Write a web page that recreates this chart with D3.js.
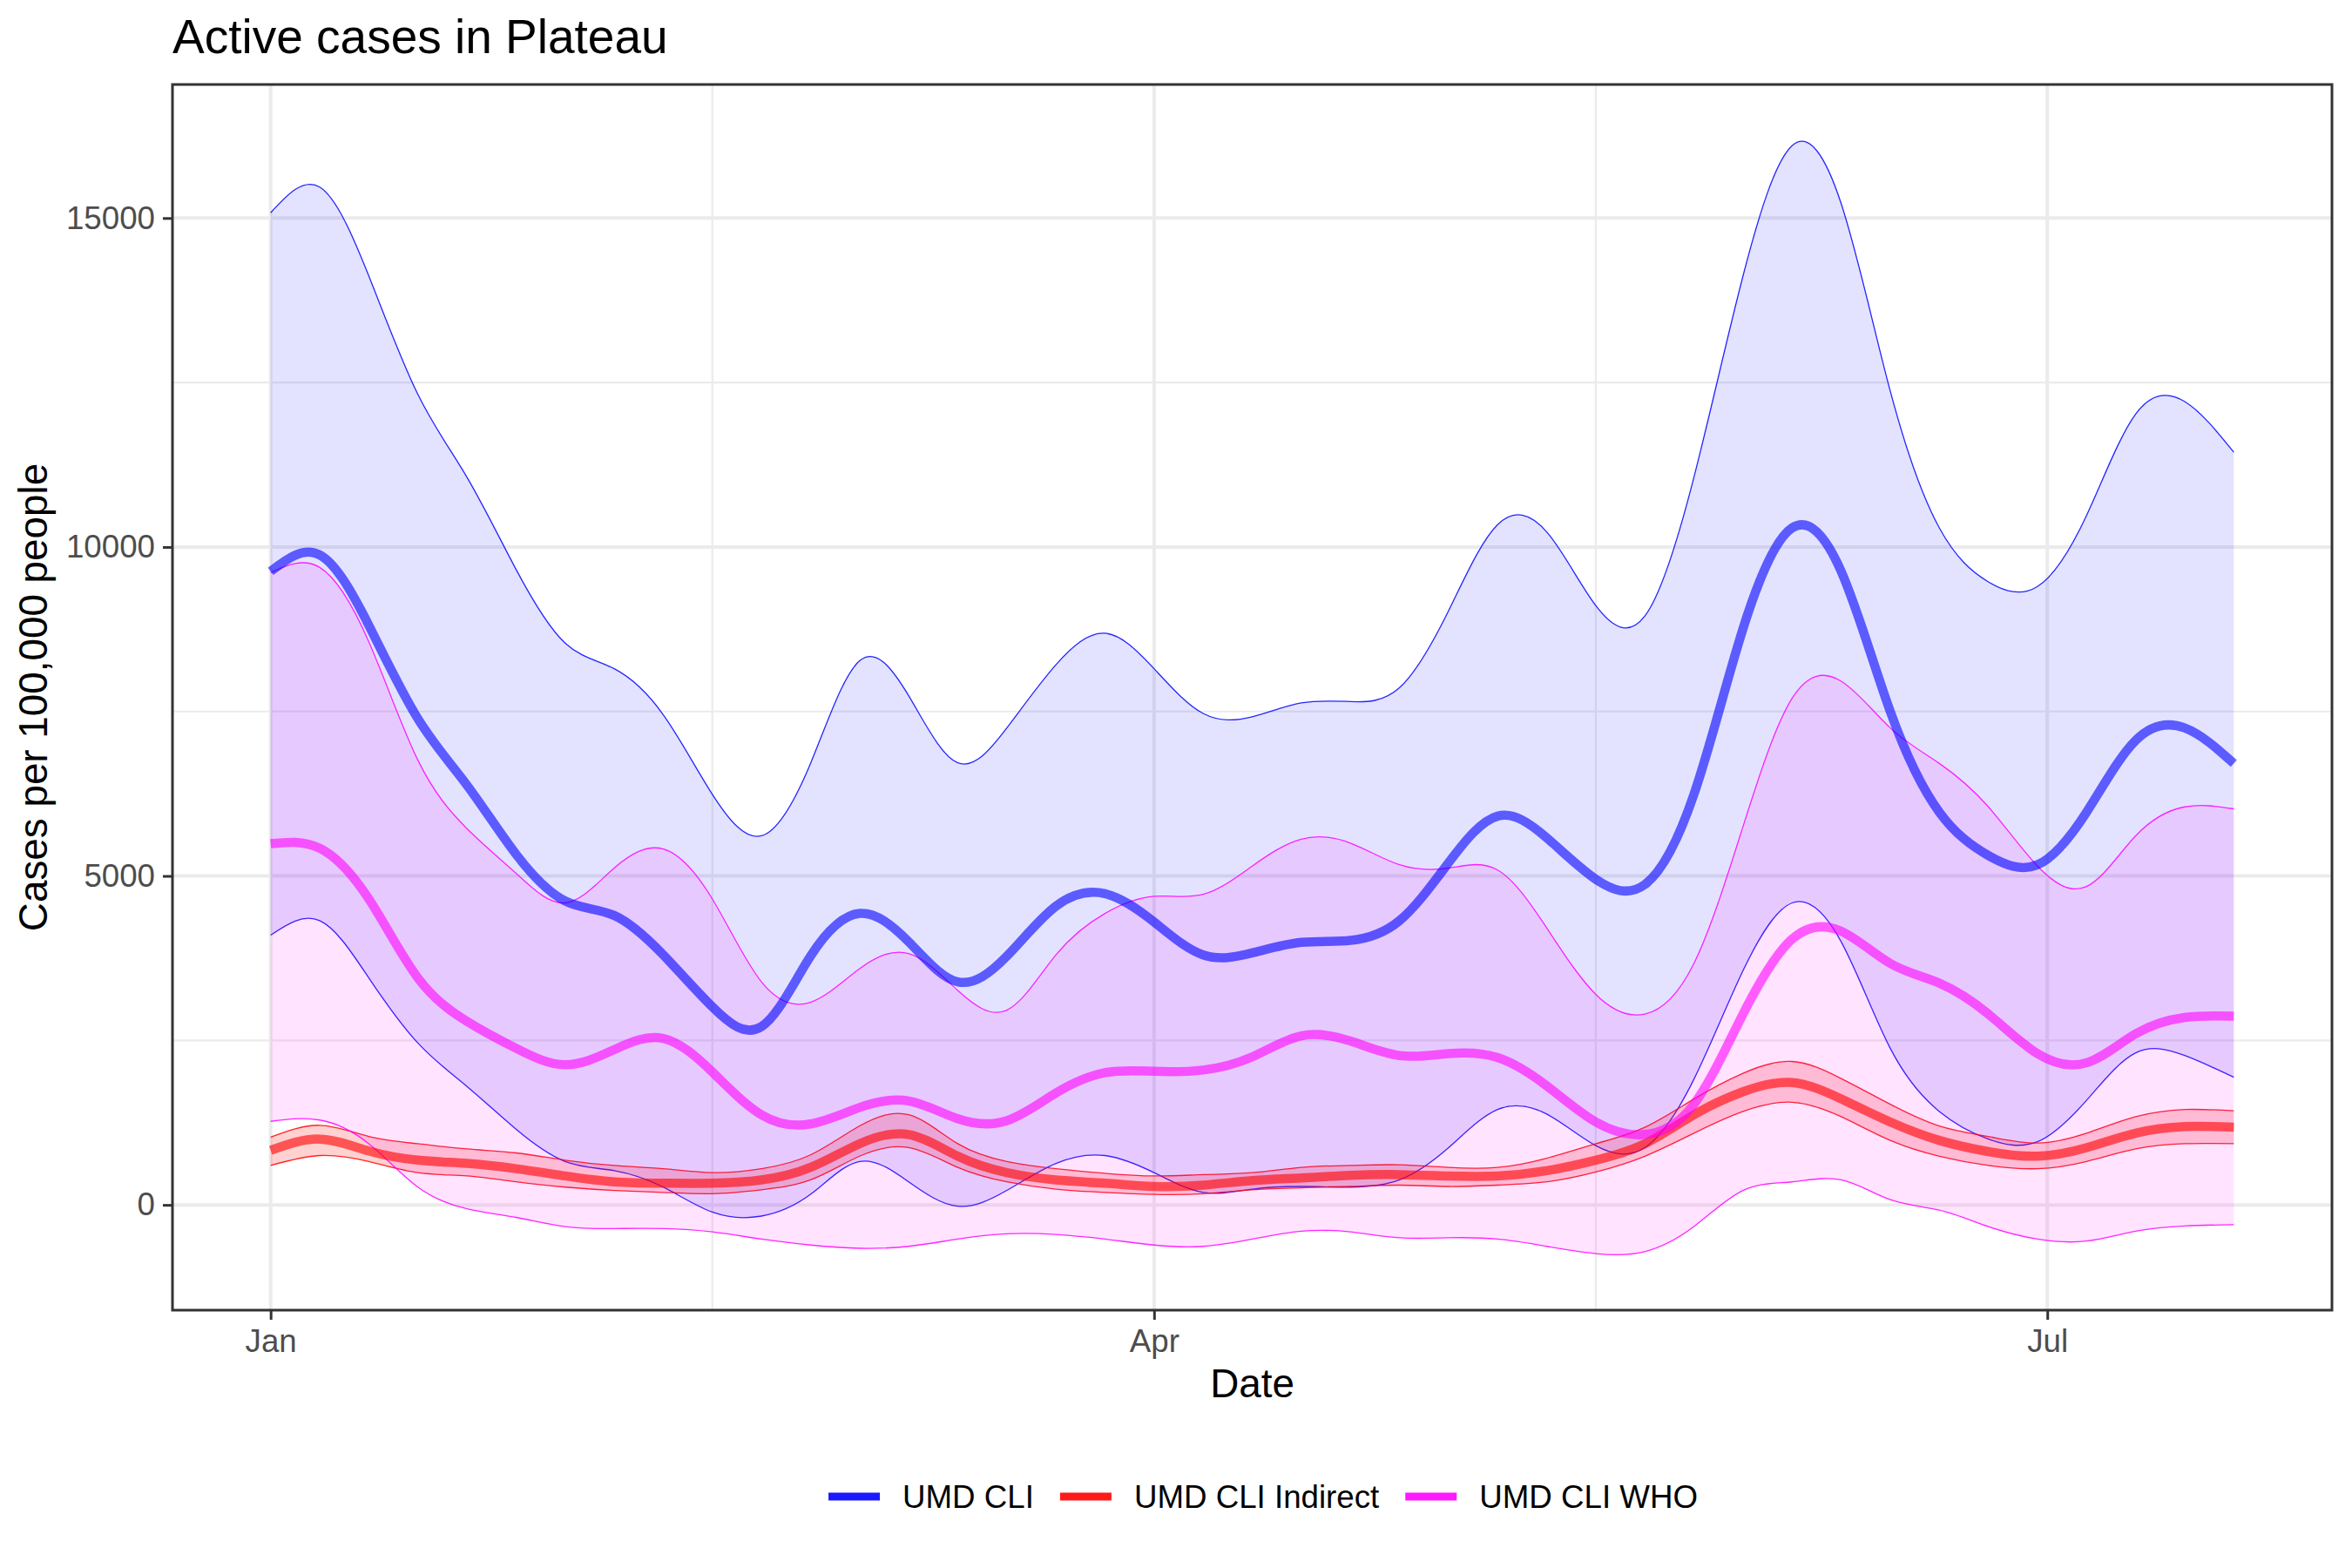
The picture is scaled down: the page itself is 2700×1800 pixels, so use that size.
<!DOCTYPE html>
<html>
<head>
<meta charset="utf-8">
<title>Active cases in Plateau</title>
<script src="https://cdn.jsdelivr.net/npm/d3@7"></script>
<style>
  body { margin: 0; background: #ffffff; }
  svg { display: block; font-family: "Liberation Sans", Arial, sans-serif; }
</style>
</head>
<body>
<script>
// sample dates (every 5 days, Jan 1 - Jul 20)
const dates = [
  "2021-01-01","2021-01-06","2021-01-11","2021-01-16","2021-01-21","2021-01-26","2021-01-31",
  "2021-02-05","2021-02-10","2021-02-15","2021-02-20","2021-02-25",
  "2021-03-02","2021-03-07","2021-03-12","2021-03-17","2021-03-22","2021-03-27",
  "2021-04-01","2021-04-06","2021-04-11","2021-04-16","2021-04-21","2021-04-26",
  "2021-05-01","2021-05-06","2021-05-11","2021-05-16","2021-05-21","2021-05-26","2021-05-31",
  "2021-06-05","2021-06-10","2021-06-15","2021-06-20","2021-06-25","2021-06-30",
  "2021-07-05","2021-07-10","2021-07-15","2021-07-20"
];

// UMD CLI
const cliMean  = [9630,9880,8810,7390,6380,5330,4620,4400,3800,3010,2710,3780,4430,4000,3390,3780,4540,4730,4300,3800,3830,
                  3990,4020,4320,5200,5910,5580,4950,4870,6240,8760,10290,9630,7500,5970,5310,5170,5970,7060,7250,6710];
const cliUpper = [15080,15470,14120,12320,11060,9660,8540,8150,7450,6240,5610,6710,8270,7740,6720,7250,8210,8690,8150,7470,7420,
                  7630,7650,7860,9030,10340,10230,9110,8950,11060,14120,16100,15220,12370,10290,9470,9400,10480,12020,12210,11440];
const cliLower = [4100,4320,3450,2460,1800,1150,660,520,270,-110,-170,160,660,350,-20,220,630,750,490,190,240,
                  280,270,380,870,1450,1380,900,870,1910,3560,4590,4000,2380,1420,1000,960,1590,2310,2270,1940];

// UMD CLI Indirect
const indMean  = [830,1000,820,680,630,550,440,350,330,330,380,570,930,1070,740,490,380,330,280,300,370,
                  410,450,460,440,440,520,680,930,1370,1720,1860,1610,1260,980,810,740,870,1090,1190,1180];
const indUpper = [1030,1210,1040,930,850,790,680,600,550,490,550,760,1200,1370,930,660,550,480,440,460,490,
                  570,600,610,570,570,710,930,1180,1610,2000,2180,1920,1530,1200,1040,940,1090,1340,1450,1430];
const indLower = [600,750,660,490,440,350,270,220,190,170,230,380,740,870,570,350,240,190,160,170,230,
                  260,280,300,280,300,350,500,740,1090,1420,1560,1340,980,740,600,550,660,850,930,930];

// UMD CLI WHO
const whoMean  = [5490,5420,4650,3450,2790,2380,2130,2360,2530,2020,1370,1230,1480,1580,1310,1280,1700,2010,2030,2050,2250,
                  2570,2490,2270,2300,2240,1810,1260,1070,1530,2900,4040,4160,3670,3370,2900,2300,2160,2600,2850,2870];
const whoUpper = [9610,9690,8560,6760,5720,5040,4590,5120,5410,4650,3390,3080,3590,3820,3260,2960,3800,4430,4690,4720,5150,
                  5560,5500,5170,5120,5090,4210,3200,2900,3670,5750,7700,7960,7250,6710,6050,5150,4840,5610,6050,6020];
const whoLower = [1270,1290,930,270,-60,-190,-330,-360,-360,-410,-520,-610,-660,-630,-520,-440,-450,-520,-610,-630,-520,
                  -400,-410,-500,-500,-520,-630,-740,-710,-330,220,350,380,80,-80,-330,-520,-550,-400,-320,-300];

const seriesNames  = ["UMD CLI", "UMD CLI Indirect", "UMD CLI WHO"];
const seriesColors = ["#0000ff", "#ff0000", "#ff00ff"];

const xTickDates  = ["2021-01-01", "2021-04-01", "2021-07-01"];
const xTickLabels = ["Jan", "Apr", "Jul"];
const xMinorDates = ["2021-02-15", "2021-05-16"];
const yTicks = [0, 5000, 10000, 15000];
const yMinor = [2500, 7500, 12500];

const W = 2700, H = 1800;
const panel = { left: 198, right: 2677, top: 97, bottom: 1504 };

const parse = d3.utcParse("%Y-%m-%d");
const xs = dates.map(parse);

// x scale with ggplot-like 5% expansion
const span = xs[xs.length - 1] - xs[0];
const x = d3.scaleUtc()
    .domain([new Date(+xs[0] - span * 0.05), new Date(+xs[xs.length - 1] + span * 0.05)])
    .range([panel.left, panel.right]);

const y = d3.scaleLinear()
    .domain([-1600, 17030])
    .range([panel.bottom, panel.top]);

const svg = d3.select("body").append("svg")
    .attr("width", W)
    .attr("height", H);

svg.append("rect").attr("width", W).attr("height", H).attr("fill", "#ffffff");

// grid
const grid = svg.append("g");
grid.selectAll(".ymin").data(yMinor).enter().append("line")
    .attr("x1", panel.left).attr("x2", panel.right)
    .attr("y1", d => y(d)).attr("y2", d => y(d))
    .attr("stroke", "#ebebeb").attr("stroke-width", 2.2);
grid.selectAll(".xmin").data(xMinorDates).enter().append("line")
    .attr("x1", d => x(parse(d))).attr("x2", d => x(parse(d)))
    .attr("y1", panel.top).attr("y2", panel.bottom)
    .attr("stroke", "#ebebeb").attr("stroke-width", 2.2);
grid.selectAll(".ymaj").data(yTicks).enter().append("line")
    .attr("x1", panel.left).attr("x2", panel.right)
    .attr("y1", d => y(d)).attr("y2", d => y(d))
    .attr("stroke", "#ebebeb").attr("stroke-width", 4);
grid.selectAll(".xmaj").data(xTickDates).enter().append("line")
    .attr("x1", d => x(parse(d))).attr("x2", d => x(parse(d)))
    .attr("y1", panel.top).attr("y2", panel.bottom)
    .attr("stroke", "#ebebeb").attr("stroke-width", 4);

svg.append("clipPath").attr("id", "clip")
  .append("rect")
    .attr("x", panel.left).attr("y", panel.top)
    .attr("width", panel.right - panel.left).attr("height", panel.bottom - panel.top);

const plot = svg.append("g").attr("clip-path", "url(#clip)");

const series = [
  { mean: cliMean, lo: cliLower, hi: cliUpper, fillOp: 0.11 },
  { mean: indMean, lo: indLower, hi: indUpper, fillOp: 0.18 },
  { mean: whoMean, lo: whoLower, hi: whoUpper, fillOp: 0.11 }
];

// smooth spline through the sampled points
const curve = d3.curveNatural;

const area = (s) => d3.area()
    .x((d, i) => x(xs[i]))
    .y0((d, i) => y(s.lo[i]))
    .y1((d, i) => y(s.hi[i]))
    .curve(curve);

const lineOf = (arr) => d3.line()
    .x((d, i) => x(xs[i]))
    .y(d => y(d))
    .curve(curve)(arr);

// ribbons
series.forEach((s, k) => {
  plot.append("path")
      .attr("d", area(s)(s.mean))
      .attr("fill", seriesColors[k])
      .attr("fill-opacity", s.fillOp)
      .attr("stroke", "none");
  [s.lo, s.hi].forEach(edge => {
    plot.append("path")
        .attr("d", lineOf(edge))
        .attr("fill", "none")
        .attr("stroke", seriesColors[k])
        .attr("stroke-opacity", 0.85)
        .attr("stroke-width", 1.3);
  });
});

// mean lines
series.forEach((s, k) => {
  plot.append("path")
      .attr("d", lineOf(s.mean))
      .attr("fill", "none")
      .attr("stroke", seriesColors[k])
      .attr("stroke-opacity", 0.6)
      .attr("stroke-width", 10.5)
      .attr("stroke-linejoin", "round");
});

// panel border
svg.append("rect")
    .attr("x", panel.left).attr("y", panel.top)
    .attr("width", panel.right - panel.left).attr("height", panel.bottom - panel.top)
    .attr("fill", "none").attr("stroke", "#333333").attr("stroke-width", 3);

// axes
const yAxis = d3.axisLeft(y).tickValues(yTicks).tickSize(11).tickPadding(9).tickFormat(d3.format("d"));
const xAxis = d3.axisBottom(x).tickValues(xTickDates.map(parse)).tickSize(11).tickPadding(11)
    .tickFormat((d, i) => xTickLabels[i]);

const gy = svg.append("g").attr("transform", `translate(${panel.left},0)`).call(yAxis);
const gx = svg.append("g").attr("transform", `translate(0,${panel.bottom})`).call(xAxis);
[gx, gy].forEach(g => {
  g.select(".domain").remove();
  g.selectAll(".tick line").attr("stroke", "#333333").attr("stroke-width", 3);
  g.selectAll(".tick text")
      .attr("fill", "#4d4d4d")
      .style("font-size", "36.7px")
      .style("font-family", "'Liberation Sans', Arial, sans-serif");
});

// titles
svg.append("text")
    .attr("x", panel.left).attr("y", 61)
    .style("font-size", "55px").attr("fill", "#000")
    .text("Active cases in Plateau");

svg.append("text")
    .attr("x", (panel.left + panel.right) / 2).attr("y", 1604)
    .attr("text-anchor", "middle")
    .style("font-size", "45.8px").attr("fill", "#000")
    .text("Date");

svg.append("text")
    .attr("transform", `translate(54,${(panel.top + panel.bottom) / 2}) rotate(-90)`)
    .attr("text-anchor", "middle")
    .style("font-size", "45.8px").attr("fill", "#000")
    .text("Cases per 100,000 people");

// legend
const keyW = 59, gapKT = 26, gapItem = 30, legY = 1731, legendCenter = 1450;
const leg = svg.append("g");
const items = seriesNames.map((name, k) => {
  const g = leg.append("g");
  g.append("line")
      .attr("x1", 0).attr("x2", keyW)
      .attr("y1", legY - 13).attr("y2", legY - 13)
      .attr("stroke", seriesColors[k]).attr("stroke-opacity", 0.9)
      .attr("stroke-width", 9);
  const t = g.append("text")
      .attr("x", keyW + gapKT).attr("y", legY)
      .style("font-size", "36.7px").attr("fill", "#000")
      .text(name);
  return { g, w: keyW + gapKT + t.node().getComputedTextLength() };
});
const total = d3.sum(items, d => d.w) + gapItem * (items.length - 1);
let cx = legendCenter - total / 2;
items.forEach(it => {
  it.g.attr("transform", `translate(${cx},0)`);
  cx += it.w + gapItem;
});
</script>
</body>
</html>
